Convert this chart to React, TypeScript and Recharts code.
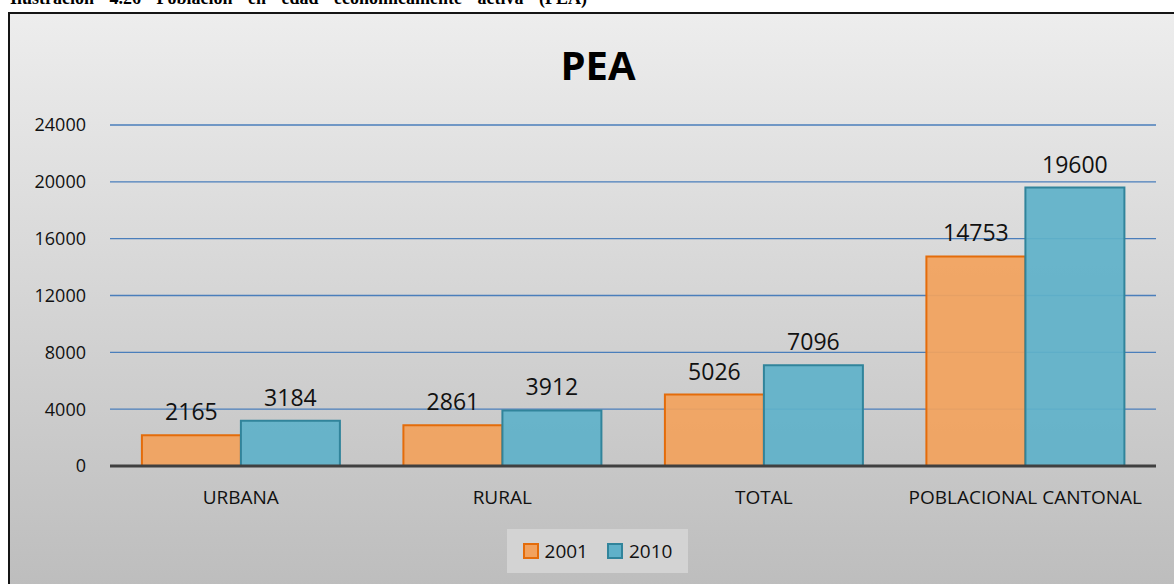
import { BarChart, Bar, XAxis, YAxis, CartesianGrid, Legend, LabelList } from "recharts";

const categories = ["URBANA", "RURAL", "TOTAL", "POBLACIONAL CANTONAL"];
const values2001 = [2165, 2861, 5026, 14753];
const values2010 = [3184, 3912, 7096, 19600];
const yTicks = [0, 4000, 8000, 12000, 16000, 20000, 24000];

const data = categories.map((name, i) => ({
  name,
  y2001: values2001[i],
  y2010: values2010[i],
}));

const FONT = "'Open Sans', sans-serif";

const LegendBox = () => (
  <div
    style={{
      width: 181,
      height: 44,
      background: "#d3d3d3",
      display: "flex",
      alignItems: "center",
      justifyContent: "center",
      fontFamily: FONT,
      fontSize: 19,
      color: "#111",
    }}
  >
    <span style={{ width: 12, height: 12, background: "#f2a25e", border: "2px solid #e46c0a", marginRight: 6 }} />
    <span style={{ marginRight: 19 }}>2001</span>
    <span style={{ width: 12, height: 12, background: "#60b1c9", border: "2px solid #31849b", marginRight: 6 }} />
    <span>2010</span>
  </div>
);

const App = () => {
  return (
    <div style={{ position: "absolute", left: 0, top: 0, width: 1174, height: 584, overflow: "hidden", background: "#fff" }}>
      {/* caption of the page, mostly cut off above */}
      <div
        style={{
          position: "absolute",
          left: 10,
          top: -11,
          fontFamily: "'Liberation Serif', serif",
          fontWeight: "bold",
          fontSize: 18,
          lineHeight: "18px",
          wordSpacing: 11,
          whiteSpace: "nowrap",
        }}
      >
        Ilustración 4.26 Población en edad económicamente activa (PEA)
      </div>
      <div
        style={{
          position: "absolute",
          left: 8,
          top: 12,
          width: 1190,
          height: 590,
          boxSizing: "border-box",
          border: "2px solid #151515",
          background: "linear-gradient(#ededed, #bcbcbc)",
        }}
      >
        <BarChart
          width={1175}
          height={570}
          data={data}
          margin={{ top: 111, right: 29, left: 0, bottom: 11 }}
          barCategoryGap="12.2%"
          barGap={0}
        >
          <CartesianGrid vertical={false} stroke="#4a7ebb" strokeWidth={1.4} />
          <XAxis
            dataKey="name"
            height={63}
            tickLine={false}
            tickSize={0}
            tickMargin={25}
            axisLine={{ stroke: "#404040", strokeWidth: 3 }}
            tick={{ fill: "#111", fontSize: 19, fontFamily: FONT }}
          />
          <YAxis
            width={100}
            domain={[0, 24000]}
            ticks={yTicks}
            axisLine={false}
            tickLine={false}
            tickSize={0}
            tickMargin={24}
            tick={{ fill: "#111", fontSize: 18, fontFamily: FONT }}
          />
          <Legend
            verticalAlign="bottom"
            align="left"
            wrapperStyle={{ left: 497, width: 181 }}
            content={() => <LegendBox />}
          />
          <Bar dataKey="y2001" name="2001" fill="#f2a25e" fillOpacity={0.93} stroke="#e46c0a" strokeWidth={2} isAnimationActive={false}>
            <LabelList dataKey="y2001" position="top" offset={15} fill="#111" fontSize={23} fontFamily={FONT} />
          </Bar>
          <Bar dataKey="y2010" name="2010" fill="#60b1c9" fillOpacity={0.93} stroke="#31849b" strokeWidth={2} isAnimationActive={false}>
            <LabelList dataKey="y2010" position="top" offset={15} fill="#111" fontSize={23} fontFamily={FONT} />
          </Bar>
        </BarChart>
        <div
          style={{
            position: "absolute",
            left: 0,
            top: 31,
            width: 1176,
            textAlign: "center",
            fontFamily: FONT,
            fontWeight: "bold",
            fontSize: 40,
            lineHeight: "40px",
            color: "#000",
          }}
        >
          PEA
        </div>
      </div>
    </div>
  );
};

export default App;
